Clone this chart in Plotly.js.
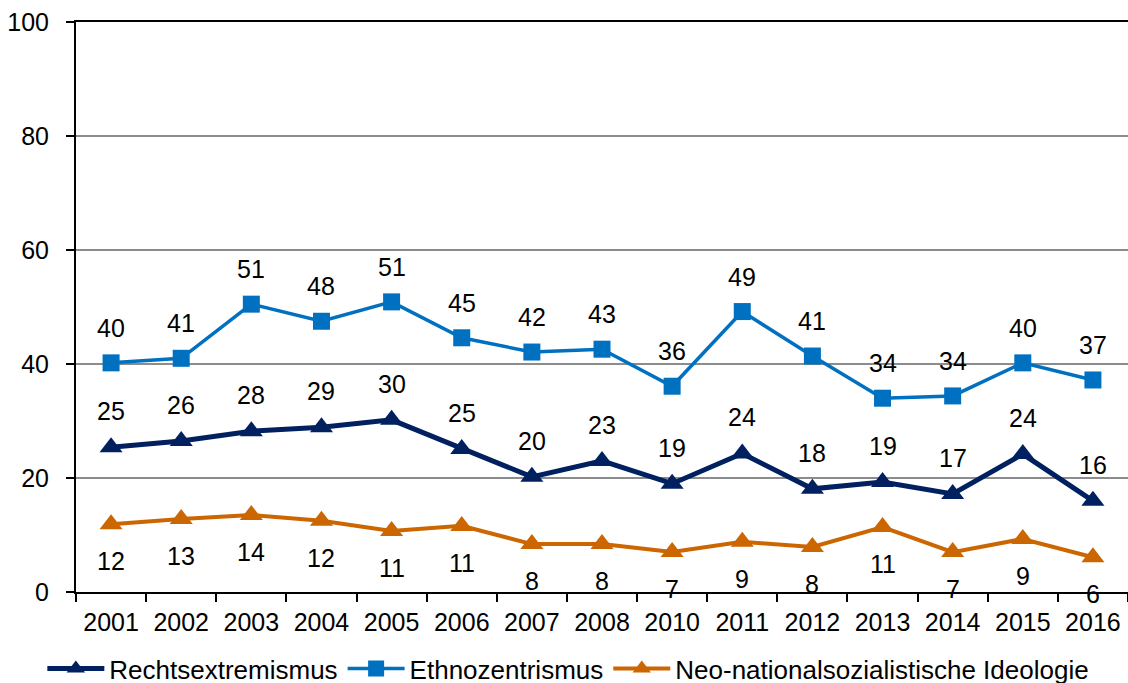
<!DOCTYPE html>
<html>
<head>
<meta charset="utf-8">
<script src="https://cdn.plot.ly/plotly-3.0.1.min.js"></script>
<style>html,body{margin:0;padding:0;background:#fff;overflow:hidden;}#wrap{width:1128px;height:683px;overflow:hidden;}#chart{width:1128px;height:720px;}</style>
</head>
<body>
<div id="wrap"><div id="chart"></div></div>
<script>
const years = ['2001','2002','2003','2004','2005','2006','2007','2008','2010','2011','2012','2013','2014','2015','2016'];
const rechts = [25.4, 26.5, 28.2, 28.9, 30.2, 25.1, 20.2, 23.0, 19.0, 24.3, 18.1, 19.3, 17.2, 24.2, 16.0];
const rechtsLabels = ['25','26','28','29','30','25','20','23','19','24','18','19','17','24','16'];
const ethno = [40.2, 41.0, 50.5, 47.5, 50.9, 44.6, 42.1, 42.6, 36.1, 49.2, 41.4, 34.0, 34.4, 40.2, 37.2];
const ethnoLabels = ['40','41','51','48','51','45','42','43','36','49','41','34','34','40','37'];
const neo = [11.9, 12.8, 13.5, 12.5, 10.7, 11.6, 8.4, 8.4, 7.0, 8.8, 7.9, 11.4, 7.0, 9.3, 6.1];
const neoLabels = ['12','13','14','12','11','11','8','8','7','9','8','11','7','9','6'];
const seriesNames = ['Rechtsextremismus','Ethnozentrismus','Neo-nationalsozialistische Ideologie'];

const FONT = 'Liberation Sans, Arial, sans-serif';
const FS = 25;
const C_R = '#002060', C_E = '#0070C0', C_N = '#CC6600';

const traces = [
  {x: years, y: rechts, name: seriesNames[0], type: 'scatter', mode: 'lines+markers',
   line: {color: C_R, width: 5}, marker: {symbol: 'triangle-up', size: 20, color: C_R}},
  {x: years, y: ethno, name: seriesNames[1], type: 'scatter', mode: 'lines+markers',
   line: {color: C_E, width: 3.5}, marker: {symbol: 'square', size: 17, color: C_E}},
  {x: years, y: neo, name: seriesNames[2], type: 'scatter', mode: 'lines+markers',
   line: {color: C_N, width: 4}, marker: {symbol: 'triangle-up', size: 20, color: C_N}}
];

const annotations = [];
function addLabels(vals, labels, shift) {
  vals.forEach((v, i) => annotations.push({x: i, y: v, text: labels[i], showarrow: false,
    yshift: shift, font: {family: FONT, size: FS, color: '#000'}}));
}
addLabels(rechts, rechtsLabels, 36);
addLabels(ethno, ethnoLabels, 35);
addLabels(neo, neoLabels, -37);

const layout = {
  width: 1128, height: 720,
  margin: {l: 76, r: 0, t: 22, b: 128},
  paper_bgcolor: '#fff', plot_bgcolor: '#fff',
  font: {family: FONT, size: FS, color: '#000'},
  showlegend: true,
  legend: {orientation: 'h', x: -0.032, xanchor: 'left', y: -0.093, yanchor: 'top',
    font: {family: FONT, size: 26, color: '#000'}, tracegroupgap: 0, itemwidth: 57},
  xaxis: {type: 'category', range: [-0.5, years.length - 0.5], tickson: 'boundaries',
    ticks: 'outside', ticklen: 8, tickwidth: 2, ticklabelstandoff: 7,
    tickcolor: '#000', showline: true, linecolor: '#000', linewidth: 2, mirror: true,
    showgrid: false, tickangle: 0, tickfont: {family: FONT, size: FS, color: '#000'}, fixedrange: true},
  yaxis: {range: [0, 100], tickvals: [0,20,40,60,80,100], ticks: 'outside', ticklen: 8, tickwidth: 2,
    tickcolor: '#000', showline: true, linecolor: '#000', linewidth: 2, ticklabelstandoff: 12,
    showgrid: true, gridcolor: '#8c8c8c', gridwidth: 1.5, zeroline: false,
    tickfont: {family: FONT, size: FS, color: '#000'}, fixedrange: true},
  annotations: annotations
};

Plotly.newPlot('chart', traces, layout, {displayModeBar: false, staticPlot: true});
</script>
</body>
</html>
